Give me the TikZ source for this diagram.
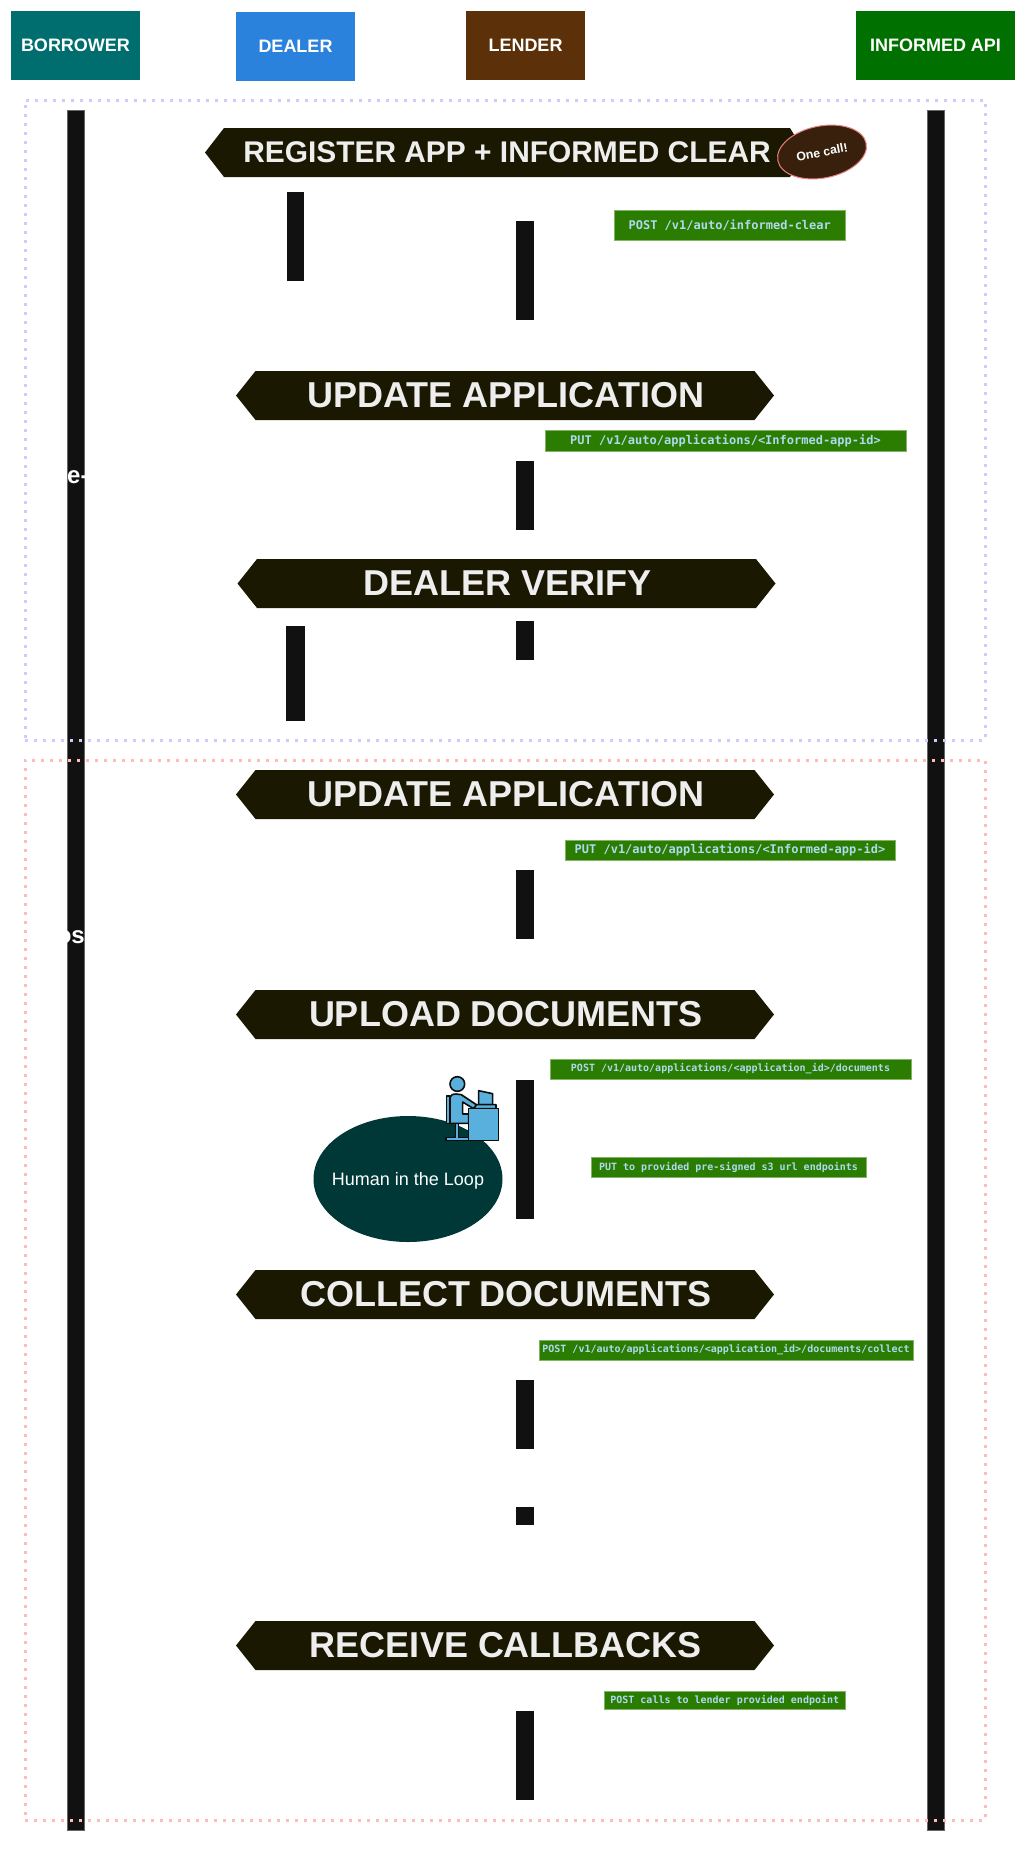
\documentclass[tikz,border=0pt]{standalone}
\usepackage{fontspec}
\setmainfont{Liberation Sans}
\newfontfamily\apifont{DejaVu Sans Mono}[BoldFont={DejaVu Sans Mono Bold}]
\usetikzlibrary{shapes.geometric}
\definecolor{hdrfill}{HTML}{1A1800}
\definecolor{hdrtext}{HTML}{EEEEEE}
\definecolor{barc}{HTML}{111111}
\definecolor{apifill}{HTML}{2A7D00}
\definecolor{apiline}{HTML}{82B366}
\definecolor{apitext}{HTML}{B0D8F0}
\definecolor{iconblue}{HTML}{5AB0DC}
\newcommand\fsz[1]{\fontsize{#1pt}{#1pt}\selectfont}
\newcommand\dn[2]{\raisebox{-#1pt}{#2}}
\newcommand\bx[7]{\node[#6,minimum width={(#4-#2)*1pt},minimum height={(#5-#3)*1pt}] (#1) at ({(#2+#4)/2},{(#3+#5)/2}) {#7};}
\newcommand\hdr[4]{%
  \fill[hdrfill] (#2,{#3+24.5}) -- ({#2+19.5},#3) -- ({#2+518.5},#3) -- ({#2+538},{#3+24.5}) -- ({#2+518.5},{#3+49}) -- ({#2+19.5},{#3+49}) -- cycle;
  \node[hdrlabel] (#1) at ({#2+270},{#3+24.5}) {#4};}
\tikzset{
  actor/.style={inner sep=0,text=white,font=\fsz{18}\bfseries},
  lifeline/.style={inner sep=0,fill=barc,draw=black!60,line width=.8pt},
  actbar/.style={inner sep=0,fill=barc},
  hdrlabel/.style={inner sep=0,text=hdrtext,font=\fsz{36}\bfseries},
  api/.style={inner sep=0,fill=apifill,draw=apiline,line width=.8pt,text=apitext},
  apibig/.style={api,font=\apifont\fsz{12}\bfseries},
  apismall/.style={api,font=\apifont\fsz{10}\bfseries},
  preframe/.style={inner sep=0,draw={rgb,255:red,204;green,204;blue,255},line width=3pt,dash pattern=on 3pt off 6pt},
  postframe/.style={inner sep=0,draw={rgb,255:red,255;green,187;blue,187},line width=3pt,dash pattern=on 3pt off 6pt},
  hidden/.style={inner sep=0,text=white,font=\fsz{24}\bfseries},
  iconpart/.style={fill=iconblue,draw=black!95,line width=1.6pt,line join=round}
}
\begin{document}
\begin{tikzpicture}[x=1pt,y=-1pt]
\useasboundingbox (0,0) rectangle (1026,1861);
\fill[white] (0,0) rectangle (1026,1861);
% actors
\bx{borrower}{11}{11}{140}{80}{actor,fill={rgb,255:red,0;green,110;blue,110}}{\dn{1}{BORROWER}}
\bx{dealer}{236}{12}{355}{81}{actor,fill={rgb,255:red,43;green,130;blue,220}}{\dn{1}{DEALER}}
\bx{lender}{466}{11}{585}{80}{actor,fill={rgb,255:red,92;green,48;blue,8}}{\dn{1}{LENDER}}
\bx{informed}{856}{11}{1015}{80}{actor,fill={rgb,255:red,0;green,112;blue,0}}{\dn{1}{INFORMED API}}
% lifelines
\bx{lifeB}{67.5}{110}{84}{1830}{lifeline}{}
\bx{lifeI}{927.5}{110}{944}{1830}{lifeline}{}
% hidden-title fragments
\node[hidden,anchor=west] (pretxt) at (67,477) {e-};
\node[hidden,anchor=east] (posttxt) at (85,937) {os};
% frames
\bx{preframe}{25}{100}{985}{740}{preframe}{}
\bx{postframe}{25}{760}{985}{1820}{postframe}{}
% headers
\fill[hdrfill] (205,152.5) -- (224,128) -- (790,128) -- (805,152.5) -- (790,177) -- (224,177) -- cycle;
\node[hdrlabel,font=\fsz{29.9}\bfseries] (hregister) at (507,152.5) {REGISTER APP + INFORMED CLEAR};
\hdr{hupdatea}{236}{371}{UPDATE APPLICATION}
\hdr{hverify}{237.5}{559}{DEALER VERIFY}
\hdr{hupdateb}{236}{770}{UPDATE APPLICATION}
\hdr{hupload}{236}{990}{UPLOAD DOCUMENTS}
\hdr{hcollect}{236}{1270}{COLLECT DOCUMENTS}
\hdr{hreceive}{236}{1621}{RECEIVE CALLBACKS}
% one call
\node[ellipse,draw={rgb,255:red,232;green,128;blue,128},fill={rgb,255:red,56;green,32;blue,12},line width=1pt,minimum width=90pt,minimum height=52pt,inner sep=0,rotate=11,text=white,font=\fsz{12.3}\bfseries] (onecall) at (822,152) {One call!};
% activation bars
\bx{dbara}{287}{192}{304}{281}{actbar}{}
\bx{dbarb}{286}{626}{305}{721}{actbar}{}
\bx{lbara}{516}{221}{534}{320}{actbar}{}
\bx{lbarb}{516}{461}{534}{530}{actbar}{}
\bx{lbarc}{516}{621}{534}{660}{actbar}{}
\bx{lbard}{516}{870}{534}{939}{actbar}{}
\bx{lbare}{516}{1080}{534}{1219}{actbar}{}
\bx{lbarf}{516}{1380}{534}{1449}{actbar}{}
\bx{lbarg}{516}{1507}{534}{1525}{actbar}{}
\bx{lbarh}{516}{1711}{534}{1800}{actbar}{}
% api labels
\bx{apia}{614}{210}{845.5}{240}{apibig}{POST /v1/auto/informed-clear}
\bx{apib}{545}{430}{906}{451}{apibig}{PUT /v1/auto/applications/<Informed-app-id>}
\bx{apic}{565}{840}{895}{860}{apibig}{PUT /v1/auto/applications/<Informed-app-id>}
\bx{apid}{550}{1059}{911}{1079}{apismall}{\dn{1.5}{POST /v1/auto/applications/<application\_id>/documents}}
\bx{apie}{591}{1157}{866}{1177}{apismall}{\dn{1}{PUT to provided pre-signed s3 url endpoints}}
\bx{apif}{539}{1340}{913}{1360}{apismall}{POST /v1/auto/applications/<application\_id>/documents/collect}
\bx{apig}{604}{1691}{845.5}{1709}{apismall}{POST calls to lender provided endpoint}
% human in the loop
\node[ellipse,fill={rgb,255:red,0;green,56;blue,56},minimum width=189pt,minimum height=126pt,inner sep=0] (hitl) at (408,1179) {};
\node[inner sep=0,text=white,font=\fsz{18},yshift=-1.5pt] (hitltext) at (hitl.center) {Human in the Loop};
% icon
\begin{scope}[shift={(440,1080)},x=0.3333pt,y=-0.3333pt]
  \draw[iconpart] (20,48) -- (30,48) -- (30,130) -- (20,130) -- cycle;
  \draw[iconpart] (47,130) -- (55,130) -- (55,172) -- (85,172) -- (85,181) -- (18,181) -- (18,172) -- (47,172) -- cycle;
  \draw[iconpart] (30,58) .. controls (30,45) and (38,42) .. (48,42) -- (64,44) -- (112,76) -- (104,88) -- (68,66) -- (68,102) -- (86,102) -- (86,130) -- (30,130) -- cycle;
  \draw[iconpart] (52,12) circle [radius=22];
  \draw[iconpart] (116,32) -- (158,41) -- (158,74) -- (116,74) -- cycle;
  \draw[iconpart] (110,74) -- (168,74) -- (168,86) -- (100,86) -- cycle;
  \draw[iconpart] (86,86) rectangle (175,182);
\end{scope}
\end{tikzpicture}
\end{document}
